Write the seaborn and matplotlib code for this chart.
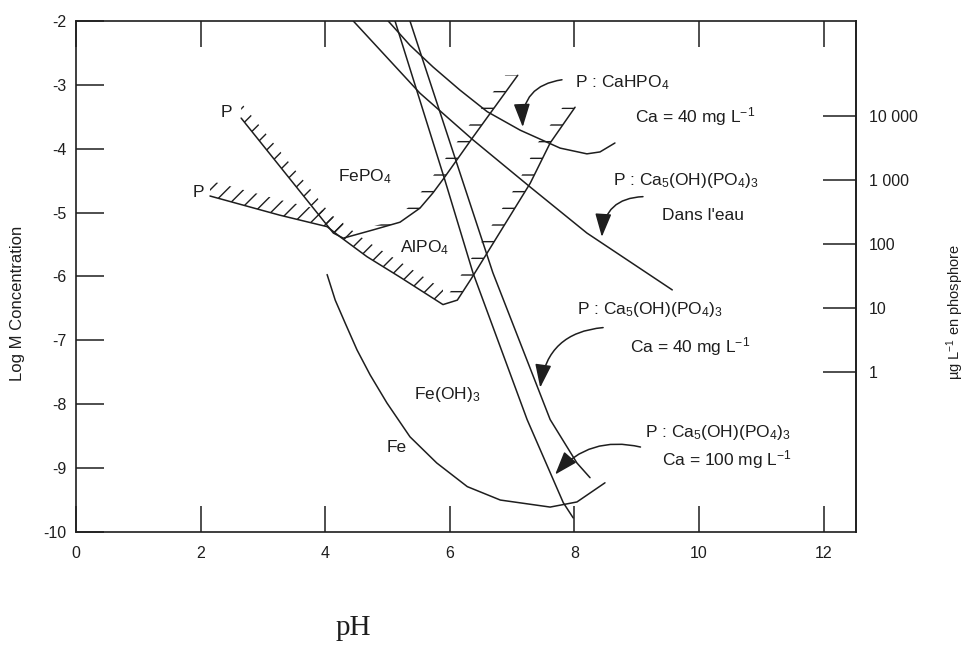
import numpy as np
import matplotlib
matplotlib.use("Agg")
import matplotlib.pyplot as plt
import seaborn as sns

# Curves (pH, log M)
fepo4_ph = [2.65, 4.13, 4.29, 4.77, 5.20, 5.52, 5.73, 5.92, 6.37, 7.09]
fepo4_logc = [-3.52, -5.32, -5.40, -5.27, -5.15, -4.93, -4.69, -4.44, -3.82, -2.85]

alpo4_ph = [2.15, 3.27, 4.03, 4.24, 4.67, 5.20, 5.89, 6.12, 6.34, 6.60, 7.29, 7.61, 8.01]
alpo4_logc = [-4.74, -5.04, -5.22, -5.38, -5.69, -6.01, -6.44, -6.37, -6.04, -5.63, -4.54, -3.91, -3.35]

cahpo4_ph = [5.01, 5.36, 5.73, 6.16, 6.60, 7.13, 7.77, 8.20, 8.41, 8.65]
cahpo4_logc = [-2.00, -2.38, -2.72, -3.08, -3.42, -3.71, -3.99, -4.08, -4.05, -3.91]

apatite_eau_ph = [4.45, 5.52, 6.37, 7.29, 8.20, 9.57]
apatite_eau_logc = [-2.00, -3.13, -3.86, -4.60, -5.32, -6.21]

apatite_ca40_ph = [5.36, 6.20, 6.69, 7.61, 8.04, 8.25]
apatite_ca40_logc = [-2.00, -4.49, -5.94, -8.24, -8.92, -9.15]

apatite_ca100_ph = [5.12, 5.92, 6.37, 7.24, 7.82, 7.98]
apatite_ca100_logc = [-2.00, -4.49, -5.94, -8.24, -9.54, -9.78]

fe_ph = [4.03, 4.16, 4.32, 4.51, 4.72, 4.99, 5.36, 5.79, 6.28, 6.81, 7.61, 8.04, 8.49]
fe_logc = [-5.97, -6.37, -6.73, -7.15, -7.54, -7.98, -8.51, -8.92, -9.29, -9.50, -9.61, -9.53, -9.23]

ph_ticks = [0, 2, 4, 6, 8, 10, 12]
logc_ticks = [-10, -9, -8, -7, -6, -5, -4, -3, -2]
ug_ticks = [1, 10, 100, 1000, 10000]
ug_labels = ["1", "10", "100", "1 000", "10 000"]

P_MOLAR_MASS = 31.0  # g/mol

INK = "#1e1e1e"


def to_ug(logm):
    return 10.0 ** np.asarray(logm, dtype=float) * P_MOLAR_MASS * 1e6


def to_logm(ug):
    ug = np.clip(np.asarray(ug, dtype=float), 1e-12, None)
    return np.log10(ug / (P_MOLAR_MASS * 1e6))


sns.set_theme(style="white")
plt.rcParams["font.family"] = ["Liberation Sans", "DejaVu Sans"]
plt.rcParams["mathtext.fontset"] = "custom"
plt.rcParams["mathtext.rm"] = "Liberation Sans"
plt.rcParams["mathtext.it"] = "Liberation Sans:italic"
plt.rcParams["mathtext.default"] = "regular"
plt.rcParams["axes.unicode_minus"] = False
plt.rcParams["hatch.linewidth"] = 1.0

fig = plt.figure(figsize=(9.65, 6.46), dpi=100)
ax = fig.add_axes([0.0788, 0.1765, 0.8083, 0.791])

curves = [
    (fepo4_ph, fepo4_logc),
    (alpo4_ph, alpo4_logc),
    (cahpo4_ph, cahpo4_logc),
    (apatite_eau_ph, apatite_eau_logc),
    (apatite_ca40_ph, apatite_ca40_logc),
    (apatite_ca100_ph, apatite_ca100_logc),
    (fe_ph, fe_logc),
]
for xs, ys in curves:
    sns.lineplot(x=xs, y=ys, sort=False, estimator=None, color=INK, linewidth=1.1, ax=ax)

# hatched (insoluble) side of the FePO4 / AlPO4 lines:
# falling branch hatched above, rising branch hatched on its left
for xs, ys in [(fepo4_ph, fepo4_logc), (alpo4_ph, alpo4_logc)]:
    xs = np.asarray(xs)
    ys = np.asarray(ys)
    k = int(np.argmin(ys))
    ax.fill_between(xs[:k + 1], ys[:k + 1], ys[:k + 1] + 0.24, facecolor="none",
                    edgecolor=INK, hatch="//", linewidth=0)
    ax.fill_betweenx(ys[k:], xs[k:] - 0.2, xs[k:], facecolor="none",
                     edgecolor=INK, hatch="-", linewidth=0)

ax.set_xlim(0, 12.52)
ax.set_ylim(-10, -2)
ax.set_xticks(ph_ticks)
ax.set_yticks(logc_ticks)
ax.set_xlabel("")
ax.set_ylabel("")

for side in ["left", "right", "top", "bottom"]:
    ax.spines[side].set_color(INK)
    ax.spines[side].set_linewidth(1.2)

ax.tick_params(axis="x", direction="in", length=19, width=1.1, color=INK,
               top=True, bottom=True, labelsize=11.5, labelcolor=INK, pad=10)
ax.tick_params(axis="y", direction="in", length=20, width=1.1, color=INK,
               left=True, right=False, labelsize=11.5, labelcolor=INK, pad=7)

sec = ax.secondary_yaxis("right", functions=(to_ug, to_logm))
sec.set_yticks(ug_ticks, labels=ug_labels)
sec.tick_params(direction="in", length=24, width=1.1, color=INK,
                labelsize=11.5, labelcolor=INK, pad=9)
sec.spines["right"].set_color(INK)
sec.spines["right"].set_linewidth(1.2)

# region labels
txt = dict(color=INK, fontsize=12.5, va="center")
ax.text(2.41, -3.44, "P", ha="center", **txt)
ax.text(1.97, -4.69, "P", ha="center", **txt)
ax.text(4.64, -4.44, "FePO$_4$", ha="center", **txt)
ax.text(5.60, -5.55, "AlPO$_4$", ha="center", **txt)
ax.text(5.95, -7.85, "Fe(OH)$_3$", ha="center", **txt)
ax.text(5.15, -8.68, "Fe", ha="center", **txt)

ax.text(8.01, -2.97, "P : CaHPO$_4$", ha="left", **txt)
ax.text(8.97, -3.50, "Ca = 40 mg L$^{-1}$", ha="left", **txt)
ax.text(8.62, -4.50, "P : Ca$_5$(OH)(PO$_4$)$_3$", ha="left", **txt)
ax.text(9.41, -5.05, "Dans l'eau", ha="left", **txt)
ax.text(8.04, -6.52, "P : Ca$_5$(OH)(PO$_4$)$_3$", ha="left", **txt)
ax.text(8.89, -7.10, "Ca = 40 mg L$^{-1}$", ha="left", **txt)
ax.text(9.13, -8.45, "P : Ca$_5$(OH)(PO$_4$)$_3$", ha="left", **txt)
ax.text(9.41, -8.87, "Ca = 100 mg L$^{-1}$", ha="left", **txt)

# curved pointer arrows
arrows = [
    ((7.80, -2.92), (7.17, -3.66), 0.45),
    ((9.10, -4.75), (8.44, -5.38), 0.45),
    ((8.46, -6.80), (7.45, -7.74), 0.40),
    ((9.06, -8.67), (7.69, -9.10), 0.30),
]
for start, tip, rad in arrows:
    ax.annotate("", xy=tip, xytext=start,
                arrowprops=dict(arrowstyle="-|>,head_length=0.8,head_width=0.28",
                                mutation_scale=18, color=INK, lw=1.1,
                                shrinkA=0, shrinkB=0,
                                connectionstyle=f"arc3,rad={rad}"))

fig.text(18 / 965, 1 - 303 / 646, "Log M Concentration", rotation=90,
         ha="center", va="center", fontsize=12, color=INK)
fig.text(955 / 965, 1 - 312 / 646, "µg L$^{-1}$ en phosphore", rotation=90,
         ha="center", va="center", fontsize=10.5, color=INK)
fig.text(353 / 965, 1 - 628 / 646, "pH", family=["Liberation Serif", "DejaVu Serif"],
         ha="center", va="center", fontsize=21, color=INK)

fig.savefig("out.png", dpi=100, facecolor="white")
